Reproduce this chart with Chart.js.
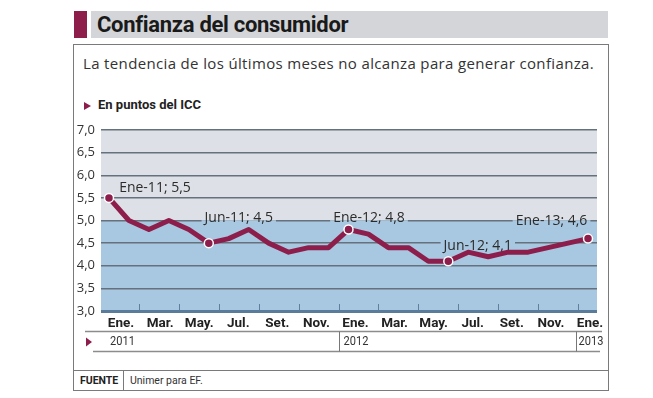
<!DOCTYPE html>
<html>
<head>
<meta charset="utf-8">
<script src="https://cdn.jsdelivr.net/npm/chart.js@4/dist/chart.umd.min.js"></script>
<style>
  body { margin: 0; width: 653px; height: 398px; background: #fff; position: relative; overflow: hidden; }
  .abs { position: absolute; white-space: nowrap; }
  .cond { font-family: Roboto, sans-serif; }
  #chart { position: absolute; left: 0; top: 0; }
</style>
</head>
<body>
<div class="abs" style="left:74px;top:11px;width:13px;height:27px;background:#8d1e4b"></div>
<div class="abs" style="left:91px;top:11px;width:517px;height:27px;background:#d3d5d9"></div>
<div class="abs cond" style="left:97px;top:11px;line-height:27px;font-size:22px;font-weight:bold;letter-spacing:-0.3px;color:#1a1a1a">Confianza del consumidor</div>
<div class="abs" style="left:73px;top:44px;width:534px;height:345px;border:1px solid #7a7a7a"></div>
<div class="abs" style="left:83px;top:53px;line-height:20px;font-size:15px;letter-spacing:0.35px;font-family:'Open Sans';color:#333">La tendencia de los últimos meses no alcanza para generar confianza.</div>
<div class="abs" style="left:84px;top:102px;width:0;height:0;border-left:7px solid #8d1e4b;border-top:4px solid transparent;border-bottom:4px solid transparent"></div>
<div class="abs cond" style="left:98px;top:97px;line-height:16px;font-size:13px;font-weight:bold;color:#222">En puntos del ICC</div>
<div class="abs" style="left:74px;top:370px;width:534px;height:1px;background:#7a7a7a"></div>
<div class="abs" style="left:123px;top:370px;width:1px;height:20px;background:#7a7a7a"></div>
<div class="abs cond" style="left:80px;top:374px;line-height:13px;font-size:10.5px;font-weight:bold;color:#222">FUENTE</div>
<div class="abs cond" style="left:130px;top:374px;line-height:13px;font-size:10.5px;color:#333">Unimer para EF.</div>
<canvas id="chart" width="653" height="398"></canvas>
<script>
// ICC, monthly, Ene-2011 .. Ene-2013
const iccValues = [5.5, 5.0, 4.8, 5.0, 4.8, 4.5, 4.6, 4.8, 4.5, 4.3, 4.4, 4.4,
  4.8, 4.7, 4.4, 4.4, 4.1, 4.1, 4.3, 4.2, 4.3, 4.3, 4.4, 4.5, 4.6]
const monthLabels = ['Ene.', 'Mar.', 'May.', 'Jul.', 'Set.', 'Nov.',
  'Ene.', 'Mar.', 'May.', 'Jul.', 'Set.', 'Nov.', 'Ene.']
const yearLabels = ['2011', '2012', '2013']
const yTicks = [3.0, 3.5, 4.0, 4.5, 5.0, 5.5, 6.0, 6.5, 7.0]
const callouts = [
  { i: 0, text: 'Ene-11; 5,5' },
  { i: 5, text: 'Jun-11; 4,5' },
  { i: 12, text: 'Ene-12; 4,8' },
  { i: 17, text: 'Jun-12; 4,1' },
  { i: 24, text: 'Ene-13; 4,6' },
]
// text centre / baseline offsets from the point, px
const calloutOffsets = [[46, -5.5], [30, -21.5], [20.5, -8], [29.5, -11], [-36.5, -14]]

const crimson = '#8d1e4b'
const grayBand = '#dde0e6'
const blueBand = '#a8c7e0'
const bandSplit = 5.0

const highlighted = callouts.map(c => c.i)

const decor = {
  id: 'decor',
  beforeDraw(chart) {
    const { ctx, chartArea: a, scales: { y } } = chart
    const mid = y.getPixelForValue(bandSplit)
    ctx.save()
    ctx.fillStyle = grayBand
    ctx.fillRect(a.left, a.top, a.right - a.left, mid - a.top)
    ctx.fillStyle = blueBand
    ctx.fillRect(a.left, mid, a.right - a.left, a.bottom - mid)
    ctx.restore()
  },
  beforeDatasetsDraw(chart) {
    const { ctx, chartArea: a, scales: { x, y } } = chart
    const mid = y.getPixelForValue(bandSplit)
    ctx.save()
    // small tick marks between the month labels
    ctx.strokeStyle = '#5f7f9c'
    ctx.lineWidth = 1
    for (let k = 0; k < 12; k++) {
      let px = Math.round(x.getPixelForValue(1.5 + 2 * k)) + 0.5
      ctx.beginPath()
      ctx.moveTo(px, a.bottom - 1)
      ctx.lineTo(px, a.bottom - 7)
      ctx.stroke()
    }
    // callouts, masking the grid behind them
    ctx.font = '14px "Open Sans"'
    ctx.textAlign = 'center'
    ctx.textBaseline = 'alphabetic'
    callouts.forEach((c, n) => {
      let px = x.getPixelForValue(c.i),
        py = y.getPixelForValue(iccValues[c.i])
      let cx = px + calloutOffsets[n][0],
        base = py + calloutOffsets[n][1]
      let w = ctx.measureText(c.text).width + 6
      let y0 = base - 12, y1 = base + 4
      let x0 = cx - w / 2
      if (y0 < mid) {
        ctx.fillStyle = grayBand
        ctx.fillRect(x0, y0, w, Math.min(mid, y1) - y0)
      }
      if (y1 > mid) {
        ctx.fillStyle = blueBand
        ctx.fillRect(x0, Math.max(mid, y0), w, y1 - Math.max(mid, y0))
      }
      ctx.fillStyle = '#2b2b2b'
      ctx.fillText(c.text, cx, base)
    })
    ctx.restore()
  },
  afterDraw(chart) {
    const { ctx, chartArea: a, scales: { x } } = chart
    const top = a.bottom + 20.5, bottom = a.bottom + 40.5
    const seps = [11.5, 23.4].map(v => Math.round(x.getPixelForValue(v)) + 0.5)
    ctx.save()
    ctx.strokeStyle = '#8c8c8c'
    ctx.lineWidth = 1.5
    ctx.beginPath()
    ctx.moveTo(a.left - 16, top)
    ctx.lineTo(a.right + 5, top)
    ctx.moveTo(a.left - 8, bottom)
    ctx.lineTo(a.right + 3, bottom)
    ctx.stroke()
    ctx.lineWidth = 1
    ctx.strokeStyle = '#777'
    seps.forEach(s => {
      ctx.beginPath()
      ctx.moveTo(s, top)
      ctx.lineTo(s, bottom)
      ctx.stroke()
    })
    ctx.fillStyle = crimson
    ctx.beginPath()
    ctx.moveTo(a.left - 15, top + 6)
    ctx.lineTo(a.left - 9, top + 10.5)
    ctx.lineTo(a.left - 15, top + 15)
    ctx.closePath()
    ctx.fill()
    ctx.font = '13px Roboto'
    ctx.fillStyle = '#333'
    ctx.textBaseline = 'middle'
    ctx.textAlign = 'left'
    let starts = [a.left + 9, seps[0] + 4, seps[1] + 2]
    yearLabels.forEach((t, i) => {
      // condensed year labels
      ctx.save()
      ctx.translate(starts[i], (top + bottom) / 2)
      ctx.scale(0.85, 1)
      ctx.fillText(t, 0, 0)
      ctx.restore()
    })
    ctx.restore()
  },
}

new Chart(document.getElementById('chart'), {
  type: 'line',
  data: {
    datasets: [
      {
        data: iccValues.map((v, i) => ({ x: i, y: v })),
        borderColor: crimson,
        borderWidth: 5,
        borderJoinStyle: 'round',
        tension: 0,
        pointRadius: ctx => (highlighted.includes(ctx.dataIndex) ? 4.5 : 0),
        pointBackgroundColor: crimson,
        pointBorderColor: '#fff',
        pointBorderWidth: 1.5,
        xAxisID: 'x',
        yAxisID: 'y',
      },
    ],
  },
  options: {
    responsive: false,
    animation: false,
    devicePixelRatio: 1,
    layout: { padding: { left: 73, top: 130, right: 56, bottom: 67 } },
    plugins: { legend: { display: false }, tooltip: { enabled: false } },
    scales: {
      x: { type: 'linear', min: -0.4, max: 24.45, display: false },
      xl: {
        type: 'linear',
        position: 'bottom',
        min: -0.513,
        max: 12.18,
        afterBuildTicks: s => { s.ticks = monthLabels.map((_, i) => ({ value: i })) },
        afterFit: s => { s.height = 20 },
        grid: { display: false, drawTicks: false },
        border: { display: false },
        ticks: {
          autoSkip: false,
          maxRotation: 0,
          padding: 5,
          color: '#222',
          font: { family: 'Roboto', size: 13.5, weight: 'bold' },
          callback: v => monthLabels[v],
        },
      },
      y: {
        min: 3,
        max: 7,
        afterBuildTicks: s => { s.ticks = yTicks.map(v => ({ value: v })) },
        afterFit: s => { s.width = 28 },
        border: { display: false },
        grid: {
          drawTicks: false,
          color: c => (c.tick.value === 3 ? '#5a7b99' : '#65717c'),
          lineWidth: c => (c.tick.value === 3 ? 3 : 1.5),
        },
        ticks: {
          padding: 6,
          color: '#333',
          font: { family: 'Open Sans', size: 13 },
          callback: v => v.toFixed(1).replace('.', ','),
        },
      },
    },
  },
  plugins: [decor],
})
</script>
</body>
</html>
